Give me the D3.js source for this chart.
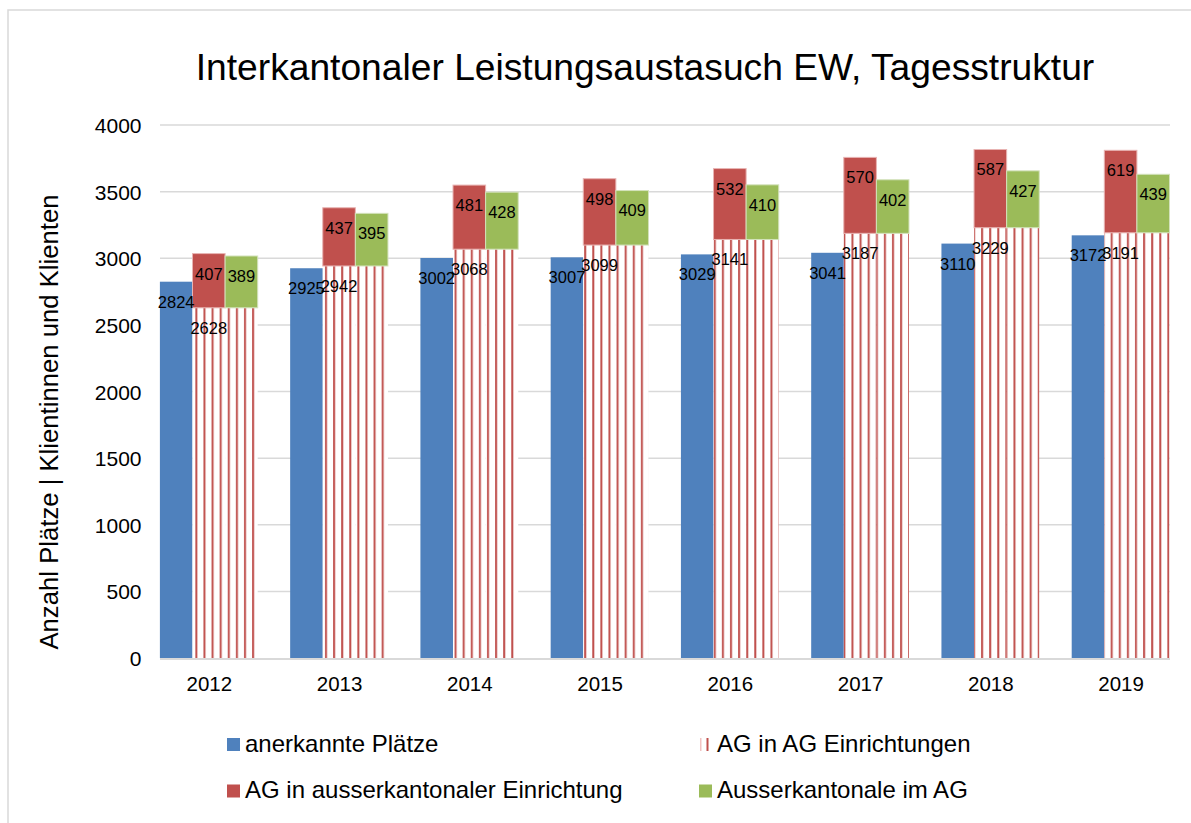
<!DOCTYPE html>
<html lang="de">
<head>
<meta charset="utf-8">
<title>Interkantonaler Leistungsaustasuch EW, Tagesstruktur</title>
<script src="https://cdn.jsdelivr.net/npm/d3@7/dist/d3.min.js"></script>
<style>
  body { margin: 0; background: #fff; }
  text { font-family: "Liberation Sans", Arial, sans-serif; fill: #000; }
</style>
</head>
<body>
<script>
// Data
var years = ["2012", "2013", "2014", "2015", "2016", "2017", "2018", "2019"];
var anerkannt = [2824, 2925, 3002, 3007, 3029, 3041, 3110, 3172];   // anerkannte Plätze
var agInAg = [2628, 2942, 3068, 3099, 3141, 3187, 3229, 3191];      // AG in AG Einrichtungen
var agAusser = [407, 437, 481, 498, 532, 570, 587, 619];           // AG in ausserkantonaler Einrichtung
var ausserImAg = [389, 395, 428, 409, 410, 402, 427, 439];         // Ausserkantonale im AG
var yTicks = [0, 500, 1000, 1500, 2000, 2500, 3000, 3500, 4000];

var W = 1191, H = 823;
var blue = "#4F81BD", red = "#C0504D", green = "#9BBB59";

var svg = d3.select("body").append("svg").attr("width", W).attr("height", H);

// striped fill for "AG in AG Einrichtungen"
var defs = svg.append("defs");
var pat = defs.append("pattern").attr("id", "stripes")
  .attr("patternUnits", "userSpaceOnUse").attr("width", 8.1).attr("height", 10);
pat.append("rect").attr("width", 8.1).attr("height", 10).attr("fill", "#fff");
pat.append("rect").attr("x", 1).attr("width", 2).attr("height", 10).attr("fill", red);

// outer chart border
svg.append("rect").attr("x", 8).attr("y", 10).attr("width", W).attr("height", H)
  .attr("fill", "none").attr("stroke", "#d9d9d9").attr("stroke-width", 1.5);

var y = d3.scaleLinear().domain([0, 4000]).range([658, 125]);
var xc = d3.scalePoint().domain(years).range([208.8, 1120.6]);
var bw = 32.6;
var left = 160, right = 1170;

// title
svg.append("text").attr("x", 645).attr("y", 80).attr("text-anchor", "middle")
  .style("font-size", "37.2px").text("Interkantonaler Leistungsaustasuch EW, Tagesstruktur");

// gridlines
svg.append("g").selectAll("line").data(yTicks.slice(1)).join("line")
  .attr("x1", left).attr("x2", right)
  .attr("y1", function(d) { return y(d); }).attr("y2", function(d) { return y(d); })
  .attr("stroke", "#d9d9d9").attr("stroke-width", 1.5);

// y axis labels
var yAxis = svg.append("g").attr("transform", "translate(141.5,0)")
  .call(d3.axisLeft(y).tickValues(yTicks).tickFormat(d3.format("d")).tickSize(0).tickPadding(0));
yAxis.select(".domain").remove();
yAxis.selectAll("text").style("font-size", "21px").attr("dy", "0.36em");

svg.append("text").attr("transform", "translate(58,422) rotate(-90)")
  .attr("text-anchor", "middle").style("font-size", "25.7px")
  .text("Anzahl Plätze | Klientinnen und Klienten");

var idx = d3.range(years.length);
var bars = svg.append("g");

// blue bars
bars.append("g").selectAll("rect").data(idx).join("rect")
  .attr("x", function(i) { return xc(years[i]) - 1.5 * bw; })
  .attr("y", function(i) { return y(anerkannt[i]); })
  .attr("width", bw).attr("height", function(i) { return y(0) - y(anerkannt[i]); })
  .attr("fill", blue);

// striped base under both stacked columns
[-0.5, 0.5].forEach(function(off) {
  bars.append("g").selectAll("rect").data(idx).join("rect")
    .attr("x", function(i) { return xc(years[i]) + off * bw; })
    .attr("y", function(i) { return y(agInAg[i]); })
    .attr("width", bw).attr("height", function(i) { return y(0) - y(agInAg[i]); })
    .attr("fill", "url(#stripes)");
});

// red on top of striped
bars.append("g").selectAll("rect").data(idx).join("rect")
  .attr("x", function(i) { return xc(years[i]) - 0.5 * bw; })
  .attr("y", function(i) { return y(agInAg[i] + agAusser[i]); })
  .attr("width", bw).attr("height", function(i) { return y(agInAg[i]) - y(agInAg[i] + agAusser[i]); })
  .attr("fill", red).attr("stroke", "#e8b4b3").attr("stroke-width", 1);

// green on top of striped
bars.append("g").selectAll("rect").data(idx).join("rect")
  .attr("x", function(i) { return xc(years[i]) + 0.5 * bw; })
  .attr("y", function(i) { return y(agInAg[i] + ausserImAg[i]); })
  .attr("width", bw).attr("height", function(i) { return y(agInAg[i]) - y(agInAg[i] + ausserImAg[i]); })
  .attr("fill", green).attr("stroke", "#d3e2bb").attr("stroke-width", 1);

// data labels (inside end)
var lab = svg.append("g").style("font-size", "16.5px").attr("text-anchor", "middle");
function labels(vals, tops, off) {
  lab.append("g").selectAll("text").data(idx).join("text")
    .attr("x", function(i) { return xc(years[i]) + off * bw; })
    .attr("y", function(i) { return y(tops[i]) + 20; })
    .attr("dy", "0.36em")
    .text(function(i) { return vals[i]; });
}
labels(anerkannt, anerkannt, -1);
labels(agInAg, agInAg, 0);
labels(agAusser, idx.map(function(i) { return agInAg[i] + agAusser[i]; }), 0);
labels(ausserImAg, idx.map(function(i) { return agInAg[i] + ausserImAg[i]; }), 1);

// x axis
svg.append("line").attr("x1", left).attr("x2", right).attr("y1", 659).attr("y2", 659)
  .attr("stroke", "#d9d9d9").attr("stroke-width", 2);
var xAxis = svg.append("g").attr("transform", "translate(0,684)")
  .call(d3.axisBottom(xc).tickSize(0).tickPadding(0));
xAxis.select(".domain").remove();
xAxis.selectAll("text").style("font-size", "20.5px").attr("dy", "0.36em");

// legend
var legend = [
  { name: "anerkannte Plätze", fill: blue, x: 227, y: 743 },
  { name: "AG in AG Einrichtungen", fill: "stripes", x: 699, y: 743 },
  { name: "AG in ausserkantonaler Einrichtung", fill: red, x: 227, y: 789.5 },
  { name: "Ausserkantonale im AG", fill: green, x: 699, y: 789.5 }
];
var lg = svg.append("g").selectAll("g").data(legend).join("g")
  .attr("transform", function(d) { return "translate(" + d.x + "," + d.y + ")"; });
lg.each(function(d) {
  var g = d3.select(this);
  if (d.fill === "stripes") {
    g.append("rect").attr("x", 1).attr("y", -5).attr("width", 1.5).attr("height", 13).attr("fill", "#f2c4c3");
    g.append("rect").attr("x", 7.5).attr("y", -5).attr("width", 2).attr("height", 13).attr("fill", red);
  } else {
    g.append("rect").attr("x", 0).attr("y", -5).attr("width", 13).attr("height", 13).attr("fill", d.fill);
  }
  g.append("text").attr("x", 18).attr("dy", "0.36em").style("font-size", "24px").text(d.name);
});
</script>
</body>
</html>
